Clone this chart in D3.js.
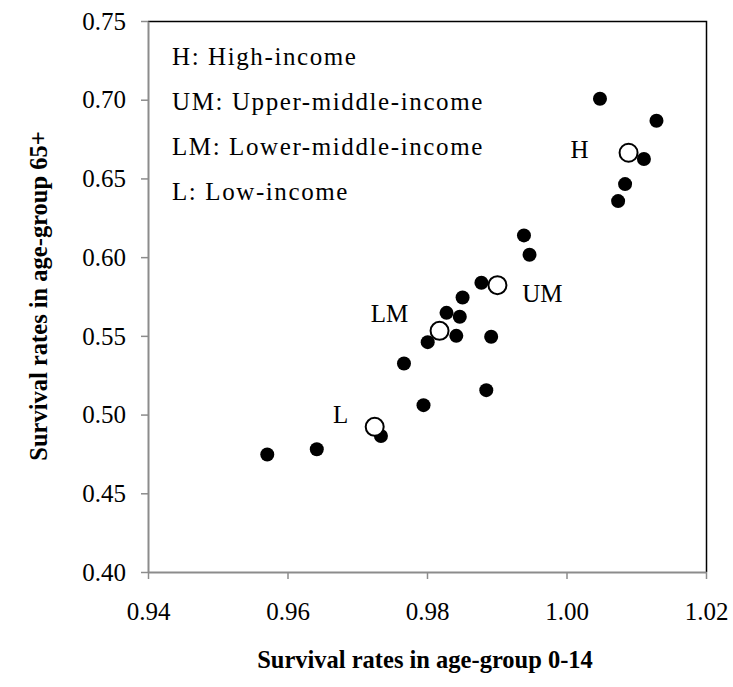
<!DOCTYPE html>
<html>
<head>
<meta charset="utf-8">
<script src="https://cdn.jsdelivr.net/npm/d3@7"></script>
<style>
  body { margin: 0; background: #fff; }
  svg { display: block; }
</style>
</head>
<body>
<svg id="chart"></svg>
<script>
// country points (filled)
var countryX = [0.9571, 0.9642, 0.9734, 0.9795, 0.9885, 0.9767, 0.9801, 0.9842, 0.9892, 0.9828,
                0.9847, 0.9851, 0.9878, 1.0048, 1.0129, 1.0111, 1.0084, 1.0074, 0.9939, 0.9947];
var countryY = [0.4746, 0.4780, 0.4864, 0.5060, 0.5155, 0.5324, 0.5460, 0.5500, 0.5494, 0.5646,
                0.5621, 0.5744, 0.5837, 0.7006, 0.6866, 0.6623, 0.6464, 0.6356, 0.6138, 0.6015];

// income group averages (open)
var groupNames = ["H", "UM", "LM", "L"];
var groupX = [1.0089, 0.9901, 0.9818, 0.9725];
var groupY = [0.6663, 0.5822, 0.5532, 0.4922];

var legendLines = ["H: High-income", "UM: Upper-middle-income", "LM: Lower-middle-income", "L: Low-income"];
var xTicks = [0.94, 0.96, 0.98, 1.00, 1.02];
var yTicks = [0.40, 0.45, 0.50, 0.55, 0.60, 0.65, 0.70, 0.75];

var W = 733, H = 687;
var margin = {top: 21, right: 27, bottom: 115, left: 148};
var width = W - margin.left - margin.right,
    height = H - margin.top - margin.bottom;

var svg = d3.select("#chart").attr("width", W).attr("height", H);
var g = svg.append("g")
  .attr("transform", "translate(" + margin.left + "," + margin.top + ")");

var x = d3.scaleLinear().domain([0.94, 1.02]).range([0, width]);
var y = d3.scaleLinear().domain([0.40, 0.75]).range([height, 0]);

var serif = "'Liberation Serif', 'Times New Roman', serif";

// top and right border
g.append("path")
  .attr("d", "M0,0.5H" + (width + 0.5) + "V" + height)
  .attr("fill", "none")
  .attr("stroke", "#000")
  .attr("stroke-width", 1.5);

var xAxis = g.append("g")
  .attr("transform", "translate(0," + height + ")")
  .call(d3.axisBottom(x).tickValues(xTicks).tickFormat(d3.format(".2f")).tickSizeInner(7).tickSizeOuter(0).tickPadding(23));

var yAxis = g.append("g")
  .call(d3.axisLeft(y).tickValues(yTicks).tickFormat(d3.format(".2f")).tickSizeInner(7).tickSizeOuter(0).tickPadding(15));

[xAxis, yAxis].forEach(function(a) {
  a.select(".domain").attr("stroke", "#8c8c8c").attr("stroke-width", 2);
  a.selectAll(".tick line").attr("stroke", "#8c8c8c").attr("stroke-width", 1.5);
  a.selectAll(".tick text")
    .style("font-family", serif)
    .style("font-size", "25px")
    .style("fill", "#000");
});
yAxis.selectAll(".tick text").attr("dy", "0.33em");

// legend text
g.selectAll(".legend")
  .data(legendLines)
  .enter().append("text")
  .attr("class", "legend")
  .attr("x", 24)
  .attr("y", function(d, i) { return 44 + i * 45; })
  .style("font-family", serif)
  .style("font-size", "25px")
  .style("letter-spacing", "1.6px")
  .style("fill", "#000")
  .text(function(d) { return d; });

var groups = groupNames.map(function(n, i) { return {name: n, x: groupX[i], y: groupY[i]}; });

function drawGroups(sel) {
  g.selectAll(".grp-" + sel)
    .data(groups.filter(function(d) { return (d.name === "H") === (sel === "under"); }))
    .enter().append("circle")
    .attr("class", "grp-" + sel)
    .attr("cx", function(d) { return x(d.x); })
    .attr("cy", function(d) { return y(d.y); })
    .attr("r", 9)
    .attr("fill", "#fff")
    .attr("stroke", "#000")
    .attr("stroke-width", 2);
}

drawGroups("under");

g.selectAll(".dot")
  .data(countryX)
  .enter().append("circle")
  .attr("class", "dot")
  .attr("cx", function(d) { return x(d); })
  .attr("cy", function(d, i) { return y(countryY[i]); })
  .attr("r", 7)
  .attr("fill", "#000");

drawGroups("over");

// group labels, offset from their markers
var labelOffset = {H: [-49, -4], UM: [45, 8], LM: [-50, -18], L: [-34, -13]};

g.selectAll(".glabel")
  .data(groups)
  .enter().append("text")
  .attr("class", "glabel")
  .attr("x", function(d) { return x(d.x) + labelOffset[d.name][0]; })
  .attr("y", function(d) { return y(d.y) + labelOffset[d.name][1]; })
  .attr("dy", "0.35em")
  .attr("text-anchor", "middle")
  .style("font-family", serif)
  .style("font-size", "25px")
  .style("fill", "#000")
  .text(function(d) { return d.name; });

// axis titles
svg.append("text")
  .attr("x", margin.left + width / 2 - 2)
  .attr("y", 668)
  .attr("text-anchor", "middle")
  .style("font-family", serif)
  .style("font-weight", "bold")
  .style("font-size", "24.5px")
  .text("Survival rates in age-group 0-14");

svg.append("text")
  .attr("transform", "translate(47," + 296 + ") rotate(-90)")
  .attr("text-anchor", "middle")
  .style("font-family", serif)
  .style("font-weight", "bold")
  .style("font-size", "24.5px")
  .text("Survival rates in age-group 65+");
</script>
</body>
</html>
